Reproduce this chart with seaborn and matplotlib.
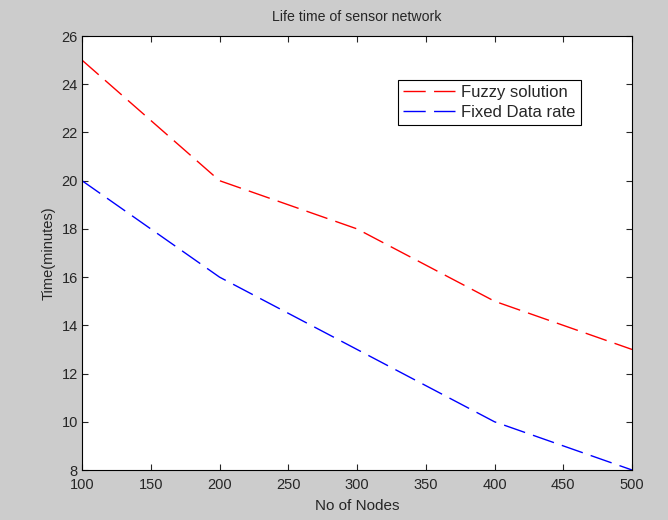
import pandas as pd
import matplotlib
matplotlib.use("Agg")
import matplotlib.pyplot as plt
import seaborn as sns

# Data
nodes = [100, 200, 300, 400, 500]
fuzzy_time = [25, 20, 18, 15, 13]
fixed_time = [20, 16, 13, 10, 8]

df = pd.DataFrame({
    "nodes": nodes * 2,
    "time": fuzzy_time + fixed_time,
    "series": ["Fuzzy solution"] * len(nodes) + ["Fixed Data rate"] * len(nodes),
})

sns.set_style("ticks")
plt.rcParams['font.family'] = ['Liberation Sans', 'DejaVu Sans']

fig = plt.figure(figsize=(6.68, 5.2), dpi=100, facecolor="#cccccc")
ax = fig.add_axes([82 / 668, 1 - 470 / 520, 550 / 668, 434 / 520])

dash = (16, 6)
palette = {"Fuzzy solution": "#ff0000", "Fixed Data rate": "#0000ff"}
sns.lineplot(data=df, x="nodes", y="time", hue="series", palette=palette,
             linewidth=1, ax=ax, legend=False)
for line in ax.get_lines():
    line.set_dashes(dash)

ax.set_xlim(100, 500)
ax.set_ylim(8, 26)
ax.set_xticks(range(100, 501, 50))
ax.set_yticks(range(8, 27, 2))
ax.tick_params(direction="in", top=True, right=True, length=4, width=0.8,
               labelsize=10.5)
ax.tick_params(axis="x", pad=6)
ax.tick_params(axis="y", pad=3)
for s in ax.spines.values():
    s.set_visible(True)
    s.set_linewidth(0.8)
    s.set_color("black")

ax.set_title("Life time of sensor network", fontsize=10.2, pad=11)
ax.set_xlabel("No of Nodes", fontsize=11, labelpad=5)
ax.set_ylabel("Time(minutes)", fontsize=10.5, labelpad=4)

handles = [plt.Line2D([], [], color="#ff0000", lw=1, dashes=dash),
           plt.Line2D([], [], color="#0000ff", lw=1, dashes=dash)]
leg = ax.legend(handles, ["Fuzzy solution", "Fixed Data rate"],
                loc="upper left", bbox_to_anchor=((398 - 82) / 550, 1 - (80 - 36) / 434),
                fontsize=12, frameon=True, fancybox=False, framealpha=1,
                edgecolor="black", handlelength=3.1, handletextpad=0.4,
                borderpad=0.3, labelspacing=0.3, borderaxespad=0)
leg.get_frame().set_linewidth(0.8)

fig.savefig("out.png", dpi=100, facecolor="#cccccc")
